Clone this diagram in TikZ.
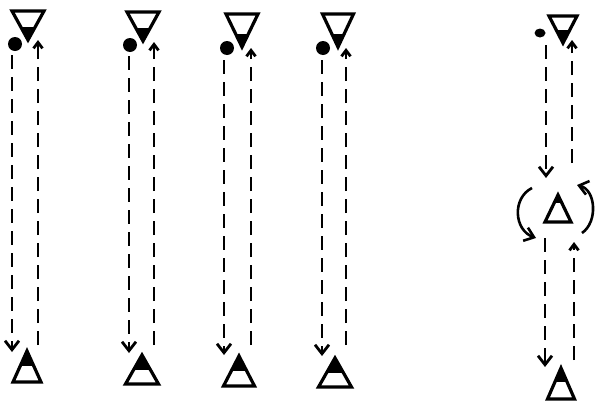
\documentclass[tikz,border=0pt]{standalone}
\usetikzlibrary{shapes.geometric, arrows.meta}

\begin{document}
\begin{tikzpicture}[x=1pt, y=-1pt,
    tridown/.style={isosceles triangle, isosceles triangle stretches, shape border rotate=-90, draw, line width=3.2pt, inner sep=0pt, outer sep=0pt, anchor=apex, minimum width=32pt, minimum height=29pt,
      path picture={\fill ([yshift=13pt]path picture bounding box.south west) rectangle (path picture bounding box.south east);}},
    triup/.style={isosceles triangle, isosceles triangle stretches, shape border rotate=90, draw, line width=3.2pt, inner sep=0pt, outer sep=0pt, anchor=apex, minimum width=30pt, minimum height=30pt,
      path picture={\fill ([yshift=-#1]path picture bounding box.north west) rectangle (path picture bounding box.north east);}},
    triup/.default=15pt,
    dot/.style={circle, fill, inner sep=0pt, minimum size=14pt},
    dashline/.style={line width=2.8pt, dash pattern=on 14pt off 8pt},
    downtip/.style={-{Straight Barb[length=9pt, width=14pt]}},
    uptip/.style={-{Straight Barb[length=6pt, width=9pt]}}]
    \useasboundingbox (0,0) rectangle (595,402);

    \node [tridown] (top1) at (28,40) {};
    \node [tridown] (top2) at (143,41) {};
    \node [tridown, minimum height=33pt] (top3) at (242,47) {};
    \node [tridown, minimum width=31pt, minimum height=33pt] (top4) at (338,47) {};
    \node [tridown, minimum width=28pt, minimum height=27pt] (top5) at (563,43) {};

    \node [triup, minimum width=28pt, minimum height=31pt] (bot1) at (27,351) {};
    \node [triup, minimum width=33pt, minimum height=29pt] (bot2) at (142,355) {};
    \node [triup, minimum width=31pt] (bot3) at (239,356) {};
    \node [triup, minimum width=33pt, minimum height=29pt] (bot4) at (335,358) {};
    \node [triup=8pt, minimum width=26pt, minimum height=27pt] (mid5) at (558,195) {};
    \node [triup=14pt, minimum width=27pt, minimum height=31pt] (bot5) at (561,368) {};

    \node [dot] (dot1) at (15,44) {};
    \node [dot] (dot2) at (130,45) {};
    \node [dot] (dot3) at (227,48) {};
    \node [dot] (dot4) at (323,48) {};
    \node [ellipse, fill, inner sep=0pt, minimum width=11pt, minimum height=9pt] (dot5) at (540,33) {};

    \coordinate (l1s) at (12,55);   \coordinate (l1e) at (12,352);
    \coordinate (r1s) at (38,345);  \coordinate (r1e) at (38,40);
    \coordinate (l2s) at (129,56);  \coordinate (l2e) at (129,353);
    \coordinate (r2s) at (154,345); \coordinate (r2e) at (154,42);
    \coordinate (l3s) at (224,60);  \coordinate (l3e) at (224,355);
    \coordinate (r3s) at (251,345); \coordinate (r3e) at (251,48);
    \coordinate (l4s) at (322,60);  \coordinate (l4e) at (322,356);
    \coordinate (r4s) at (346,345); \coordinate (r4e) at (346,48);
    \coordinate (l5s) at (546,45);  \coordinate (l5e) at (546,178);
    \coordinate (r5s) at (572,163); \coordinate (r5e) at (572,40);
    \coordinate (m5s) at (545,238); \coordinate (m5e) at (545,367);
    \coordinate (n5s) at (574,360); \coordinate (n5e) at (574,242);

    \draw [dashline, downtip] (l1s) -- (l1e);
    \draw [dashline, uptip] (r1s) -- (r1e);
    \draw [dashline, downtip] (l2s) -- (l2e);
    \draw [dashline, uptip] (r2s) -- (r2e);
    \draw [dashline, downtip] (l3s) -- (l3e);
    \draw [dashline, uptip] (r3s) -- (r3e);
    \draw [dashline, downtip] (l4s) -- (l4e);
    \draw [dashline, uptip] (r4s) -- (r4e);
    \draw [dashline, downtip] (l5s) -- (l5e);
    \draw [dashline, uptip] (r5s) -- (r5e);
    \draw [dashline, downtip] (m5s) -- (m5e);
    \draw [dashline, uptip] (n5s) -- (n5e);

    \coordinate (a1s) at (532,188); \coordinate (a1e) at (536,238);
    \coordinate (a2s) at (582,233); \coordinate (a2e) at (577,185);
    \draw [line width=2.6pt, downtip] (a1s) .. controls (512,198) and (514,230) .. (a1e);
    \draw [line width=2.6pt, downtip] (a2s) .. controls (598,222) and (596,190) .. (a2e);
\end{tikzpicture}
\end{document}
